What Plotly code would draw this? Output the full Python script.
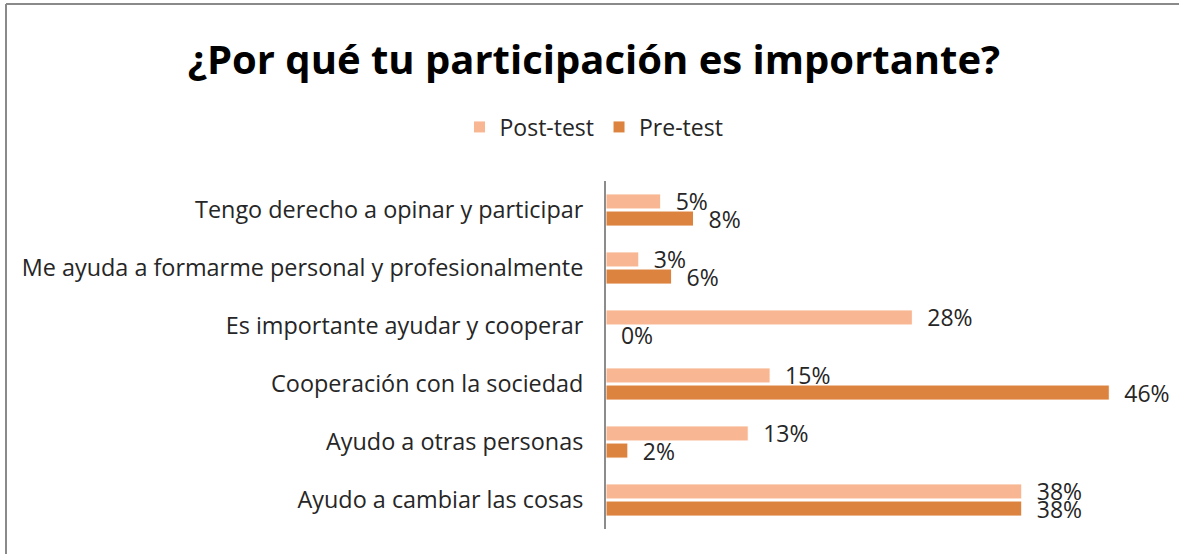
import plotly.graph_objects as go

# categories listed top to bottom as in the chart
categorias = [
    "Tengo derecho a opinar y participar",
    "Me ayuda a formarme personal y profesionalmente",
    "Es importante ayudar y cooperar",
    "Cooperación con la sociedad",
    "Ayudo a otras personas",
    "Ayudo a cambiar las cosas",
]
post_test = [5, 3, 28, 15, 13, 38]
pre_test = [8, 6, 0, 46, 2, 38]

W, H = 1179, 554
ML, MR, MT, MB = 606, 50, 181, 25
pw = W - ML - MR
ph = H - MT - MB

label_tpl = "\u00a0\u00a0%{x}%"

fig = go.Figure()
fig.add_trace(go.Bar(
    y=categorias, x=post_test, orientation="h", name="Post-test",
    marker=dict(color="#F9B692", line=dict(color="white", width=1)),
    texttemplate=label_tpl, textposition="outside", constraintext="none",
    textfont=dict(size=23, color="#262626"), cliponaxis=False,
))
fig.add_trace(go.Bar(
    y=categorias, x=pre_test, orientation="h", name="Pre-test",
    marker=dict(color="#DC843F", line=dict(color="white", width=1)),
    texttemplate=label_tpl, textposition="outside", constraintext="none",
    textfont=dict(size=23, color="#262626"), cliponaxis=False,
))

# frame around the chart (left and top edges visible)
x0 = (6 - ML) / pw
y1 = (H - MB - 4) / ph
fig.add_shape(type="line", xref="paper", yref="paper", x0=x0, x1=x0,
              y0=-MB / ph - 0.01, y1=y1, line=dict(color="#8a8a8a", width=2))
fig.add_shape(type="line", xref="paper", yref="paper", x0=x0, x1=(W - ML) / pw + 0.01,
              y0=y1, y1=y1, line=dict(color="#8a8a8a", width=2))

fig.update_layout(
    width=W, height=H,
    margin=dict(l=ML, r=MR, t=MT, b=MB),
    paper_bgcolor="white", plot_bgcolor="white",
    font=dict(family="Open Sans", color="#262626"),
    title=dict(text="<b>¿Por qué tu participación es importante?</b>",
               x=594 / W, xref="container", xanchor="center",
               y=1 - 60 / H, yref="container", yanchor="middle",
               font=dict(size=40, color="black")),
    barmode="group", bargap=0.41, bargroupgap=0.12,
    legend=dict(orientation="h", x=(594 - ML) / pw, xanchor="center",
                y=(H - MB - 127) / ph, yanchor="middle",
                font=dict(size=23, color="#262626"), traceorder="normal"),
    showlegend=True,
)
fig.update_xaxes(range=[0, 47.8], visible=False)
fig.update_yaxes(autorange="reversed", showline=True, linecolor="#8c8c8c",
                 linewidth=2, ticks="", tickfont=dict(size=23.4, color="#262626"),
                 ticklabelstandoff=16, showgrid=False)

fig.write_html("out.html", config={"displayModeBar": False},
               post_script="document.body.style.margin='0';")
